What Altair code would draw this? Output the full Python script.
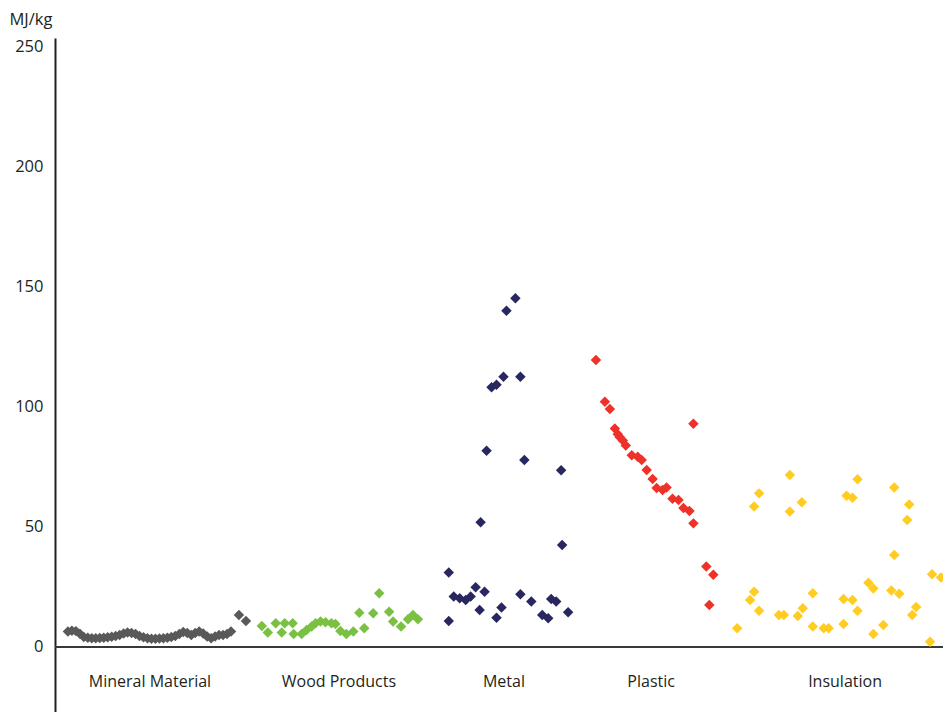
import altair as alt
import pandas as pd

# ---- data (position along the row, MJ/kg) ----
mineral_pos = [13, 17, 21, 25, 29, 33, 37, 41, 45, 49, 53, 57, 61, 65, 69, 73, 77, 81,
               85, 89, 93, 97, 101, 105, 109, 113, 117, 121, 125, 129, 133, 137, 141,
               145, 149, 153, 157, 161, 165, 169, 173, 177, 185, 192]
mineral_val = [6.4, 6.8, 6.6, 5.5, 4.2, 3.8, 3.6, 3.6, 3.7, 3.8, 4.0, 4.3, 4.6, 5.0,
               5.6, 6.0, 5.8, 5.4, 4.6, 4.0, 3.6, 3.4, 3.4, 3.5, 3.6, 3.8, 4.2, 4.6,
               5.4, 6.2, 5.8, 5.0, 5.8, 6.4, 5.6, 4.4, 3.6, 4.4, 5.0, 5.0, 5.4, 6.4,
               13.3, 10.8]

wood_pos = [208, 214, 222, 228, 231, 239, 240, 248, 253, 258, 262, 267, 272, 278,
            282, 287, 293, 300, 306, 311, 320, 326, 336, 340, 348, 355, 360, 365]
wood_val = [8.75, 6.0, 9.9, 6.0, 9.9, 9.9, 5.4, 5.4, 7.1, 8.5, 9.9, 10.6, 10.3, 9.9,
            9.6, 6.7, 5.4, 6.4, 14.3, 7.8, 14.0, 22.4, 14.7, 10.6, 8.5, 11.5, 13.3, 11.5]

metal_pos = [396, 396, 401, 407, 413, 418, 423, 427, 428, 432, 434, 439, 444, 444,
             449, 451, 454, 463, 468, 468, 472, 479, 490, 496, 499, 504, 509, 510, 516]
metal_val = [31, 10.8, 21, 20.3, 19.6, 21, 24.9, 15.4, 52, 23, 81.8, 108.2, 109.3,
             12.2, 16.4, 112.6, 140.1, 145.3, 22, 112.6, 77.9, 18.9, 13.3, 12, 20,
             18.9, 73.6, 42.5, 14.5]

plastic_pos = [544, 553, 558, 563, 566, 568, 571, 574, 580, 586, 590, 595, 601, 605,
               611, 615, 621, 627, 632, 638, 642, 642, 655, 658, 662]
plastic_val = [119.6, 102.2, 99.2, 91, 88.6, 87.4, 86, 83.9, 79.9, 79.3, 77.9, 73.75,
               70, 66.25, 65.4, 66.4, 61.8, 61.25, 57.9, 56.7, 93, 51.5, 33.5, 17.5, 30.1]

insul_pos = [686, 699, 703, 703, 708, 708, 728, 733, 739, 739, 747, 751, 752, 762, 762,
             773, 778, 793, 793, 796, 802, 802, 807, 807, 818, 823, 823, 833, 841, 844,
             844, 849, 857, 859, 862, 866, 880, 882, 891]
insul_val = [7.8, 19.6, 23, 58.5, 64, 15.1, 13.3, 13.3, 71.7, 56.4, 12.9, 60.3, 16.1,
             22.4, 8.5, 7.8, 7.8, 9.6, 20, 63, 19.6, 62.2, 15.1, 69.9, 26.8, 24.4, 5.4,
             9.2, 23.5, 66.4, 38.3, 22.2, 52.9, 59.4, 13.3, 16.7, 2.2, 30.3, 28.9]

categories = ["Mineral Material", "Wood Products", "Metal", "Plastic", "Insulation"]
category_label_pos = [95.5, 285.5, 451.5, 599.5, 794.5]
colors = ["#58595b", "#7ac143", "#29275f", "#ee3129", "#ffcc22"]
y_ticks = [0, 50, 100, 150, 200, 250]

# ---- tables ----
groups = [(mineral_pos, mineral_val), (wood_pos, wood_val), (metal_pos, metal_val),
          (plastic_pos, plastic_val), (insul_pos, insul_val)]
rows = []
for cat, (ps, vs) in zip(categories, groups):
    for p, v in zip(ps, vs):
        rows.append({"category": cat, "pos": p, "value": v})
points = pd.DataFrame(rows)
labels = pd.DataFrame({"category": categories, "pos": category_label_pos})

FONT = "Open Sans"
x_scale = alt.Scale(domain=[0, 893], nice=False, zero=False)
y_scale = alt.Scale(domain=[-27.1, 253.75], nice=False, zero=False)

pts = alt.Chart(points).mark_point(
    shape="diamond", filled=True, opacity=1, size=110, strokeWidth=0
).encode(
    x=alt.X("pos:Q", scale=x_scale, axis=None),
    y=alt.Y("value:Q", scale=y_scale,
            axis=alt.Axis(values=y_ticks, ticks=False, grid=False, domain=True,
                          domainColor="#231f20", domainWidth=2,
                          labelFont=FONT, labelFontSize=16.5, labelColor="#231f20",
                          labelPadding=12, title="MJ/kg", titleFont=FONT,
                          titleFontSize=16.5, titleFontWeight="normal",
                          titleColor="#231f20", titleAngle=0, titleAlign="left",
                          titleBaseline="middle", titleX=-46, titleY=-19)),
    color=alt.Color("category:N", scale=alt.Scale(domain=categories, range=colors),
                    legend=None),
)

zero_line = alt.Chart(labels).mark_rule(color="#3a3a3a", strokeWidth=1.6).encode(
    y=alt.datum(0, scale=y_scale)
)

cat_text = alt.Chart(labels).mark_text(
    font=FONT, fontSize=16, color="#231f20", baseline="middle", align="center"
).encode(
    x=alt.X("pos:Q", scale=x_scale, axis=None),
    y=alt.datum(-14.6),
    text="category:N",
)

chart = alt.layer(zero_line, pts, cat_text).properties(
    width=888, height=674,
    autosize=alt.AutoSizeParams(type="none"),
    padding={"left": 47, "top": 30, "right": 0, "bottom": 0},
).configure_view(stroke=None)

chart.save("out.html", embed_options={"renderer": "svg", "actions": False})
